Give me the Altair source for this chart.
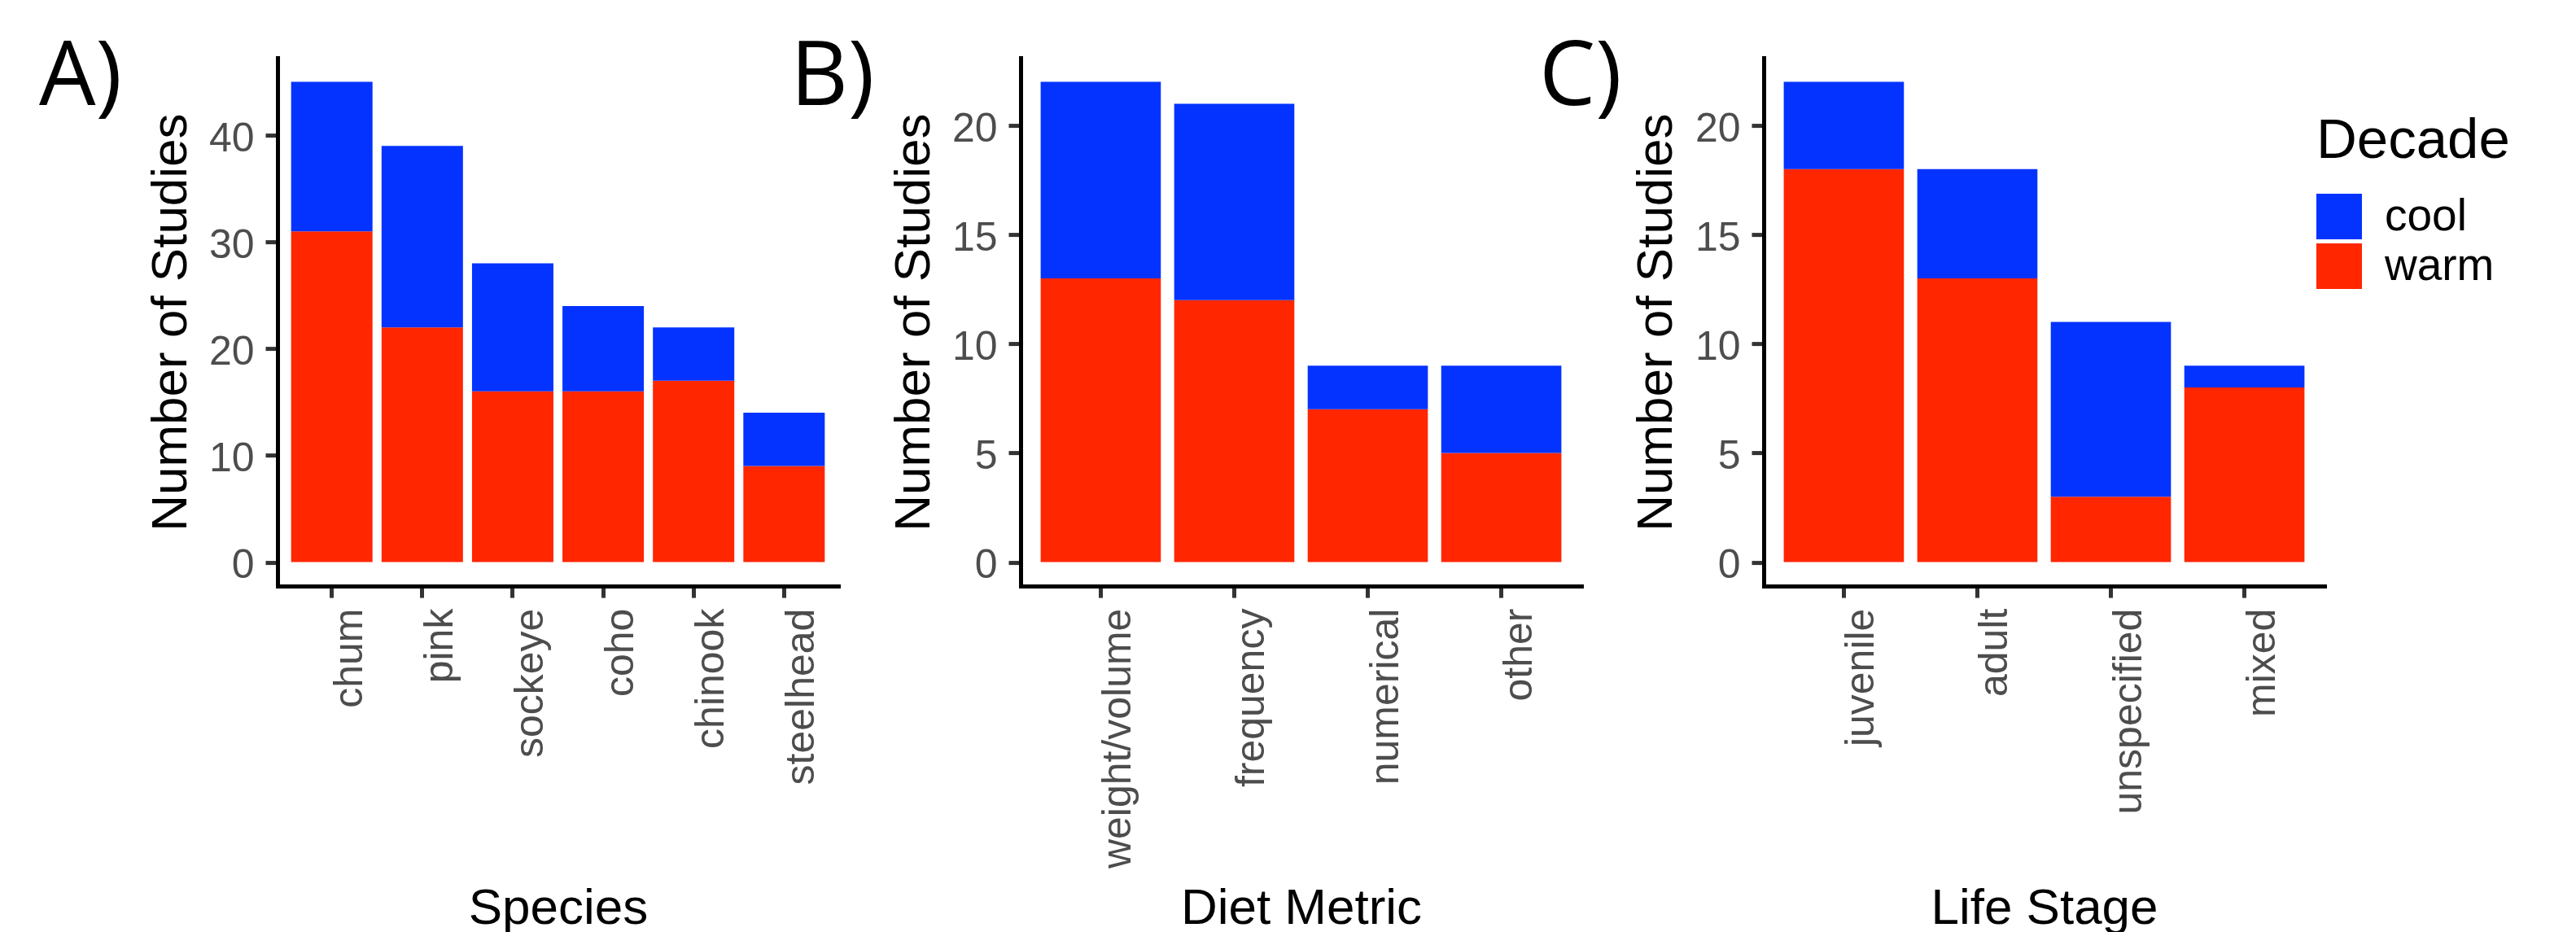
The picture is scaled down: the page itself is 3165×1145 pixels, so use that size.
import altair as alt
import pandas as pd

# ---- data ----
species = ["chum", "pink", "sockeye", "coho", "chinook", "steelhead"]
species_warm = [31, 22, 16, 16, 17, 9]
species_cool = [14, 17, 12, 8, 5, 5]

diet = ["weight/volume", "frequency", "numerical", "other"]
diet_warm = [13, 12, 7, 5]
diet_cool = [9, 9, 2, 4]

stage = ["juvenile", "adult", "unspecified", "mixed"]
stage_warm = [18, 13, 3, 8]
stage_cool = [4, 5, 8, 1]

decades = ["cool", "warm"]
decade_colors = ["#0433FF", "#FF2600"]

panel_labels = ["A)", "B)", "C)"]
x_titles = ["Species", "Diet Metric", "Life Stage"]
y_title = "Number of Studies"
ticks_a = [0, 10, 20, 30, 40]
ticks_bc = [0, 5, 10, 15, 20]


def to_long(cats, warm, cool):
    rows = []
    for c, w, k in zip(cats, warm, cool):
        rows.append({"cat": c, "Decade": "warm", "n": w, "ord": 0})
        rows.append({"cat": c, "Decade": "cool", "n": k, "ord": 1})
    return pd.DataFrame(rows)


W, H = 689, 649
FONT = "Liberation Sans"
LABEL_SIZE = 110
LABEL_TOP = 58 - 0.79 * LABEL_SIZE  # baseline about 58 px below the plot top

color_enc = alt.Color(
    "Decade:N",
    scale=alt.Scale(domain=decades, range=decade_colors),
    legend=alt.Legend(orient="none", legendX=2505, legendY=68, title="Decade"),
)


def panel(cats, warm, cool, xtitle, yticks, label, label_dx):
    df = to_long(cats, warm, cool)
    ymax = max(w + k for w, k in zip(warm, cool))
    lo, hi = -0.05 * ymax, 1.05 * ymax
    bars = alt.Chart(df).mark_bar().encode(
        x=alt.X(
            "cat:N",
            sort=cats,
            scale=alt.Scale(paddingInner=0.1, paddingOuter=0.15),
            axis=alt.Axis(
                title=xtitle,
                labelAngle=270,
                labelAlign="right",
                labelBaseline="middle",
                labelOffset=22,
                labelPadding=13,
                tickSize=14,
                titleX=W / 2,
                titleY=414,
                titleBaseline="alphabetic",
            ),
        ),
        y=alt.Y(
            "n:Q",
            stack="zero",
            scale=alt.Scale(domain=[lo, hi], nice=False, zero=False),
            axis=alt.Axis(
                title=y_title,
                values=yticks,
                tickSize=15,
                labelPadding=14,
                labelOffset=4,
                titleX=-113,
                titleY=H / 2,
                titleAngle=270,
                titleAlign="center",
                titleBaseline="alphabetic",
            ),
        ),
        color=color_enc,
        order=alt.Order("ord:Q", sort="ascending"),
    )
    lab = alt.Chart(pd.DataFrame({"t": [label]})).mark_text(
        align="left", baseline="top", font="Open Sans", fontSize=LABEL_SIZE, color="black"
    ).encode(text="t:N", x=alt.value(label_dx), y=alt.value(LABEL_TOP))
    return alt.layer(bars, lab).properties(width=W, height=H)


pa = panel(species, species_warm, species_cool, x_titles[0], ticks_a, panel_labels[0], -293)
pb = panel(diet, diet_warm, diet_cool, x_titles[1], ticks_bc, panel_labels[1], -283)
pc = panel(stage, stage_warm, stage_cool, x_titles[2], ticks_bc, panel_labels[2], -276)

chart = (
    alt.hconcat(pa, pb, pc, spacing=224, bounds="flush")
    .properties(padding={"left": 40, "top": 26 + (LABEL_TOP + 36), "right": 10, "bottom": 4})
    .configure_view(stroke=None)
    .configure_axis(
        grid=False,
        domainColor="black",
        domainWidth=5,
        domainCap="square",
        tickColor="#333333",
        tickWidth=5,
        labelFont=FONT,
        labelFontSize=50,
        labelColor="#4D4D4D",
        titleFont=FONT,
        titleFontSize=62,
        titleFontWeight="normal",
        titleColor="black",
        labelLimit=1000,
    )
    .configure_legend(
        titleFont=FONT,
        titleFontSize=69,
        titleFontWeight="normal",
        titleColor="black",
        titlePadding=30,
        titleLimit=1000,
        labelFont=FONT,
        labelFontSize=55,
        labelColor="black",
        labelOffset=28,
        labelLimit=1000,
        symbolType="square",
        symbolSize=3136,
        symbolStrokeWidth=0,
        symbolOpacity=1,
        rowPadding=5,
        padding=0,
    )
)

chart.save("out.html", embed_options={"renderer": "svg", "actions": False})
